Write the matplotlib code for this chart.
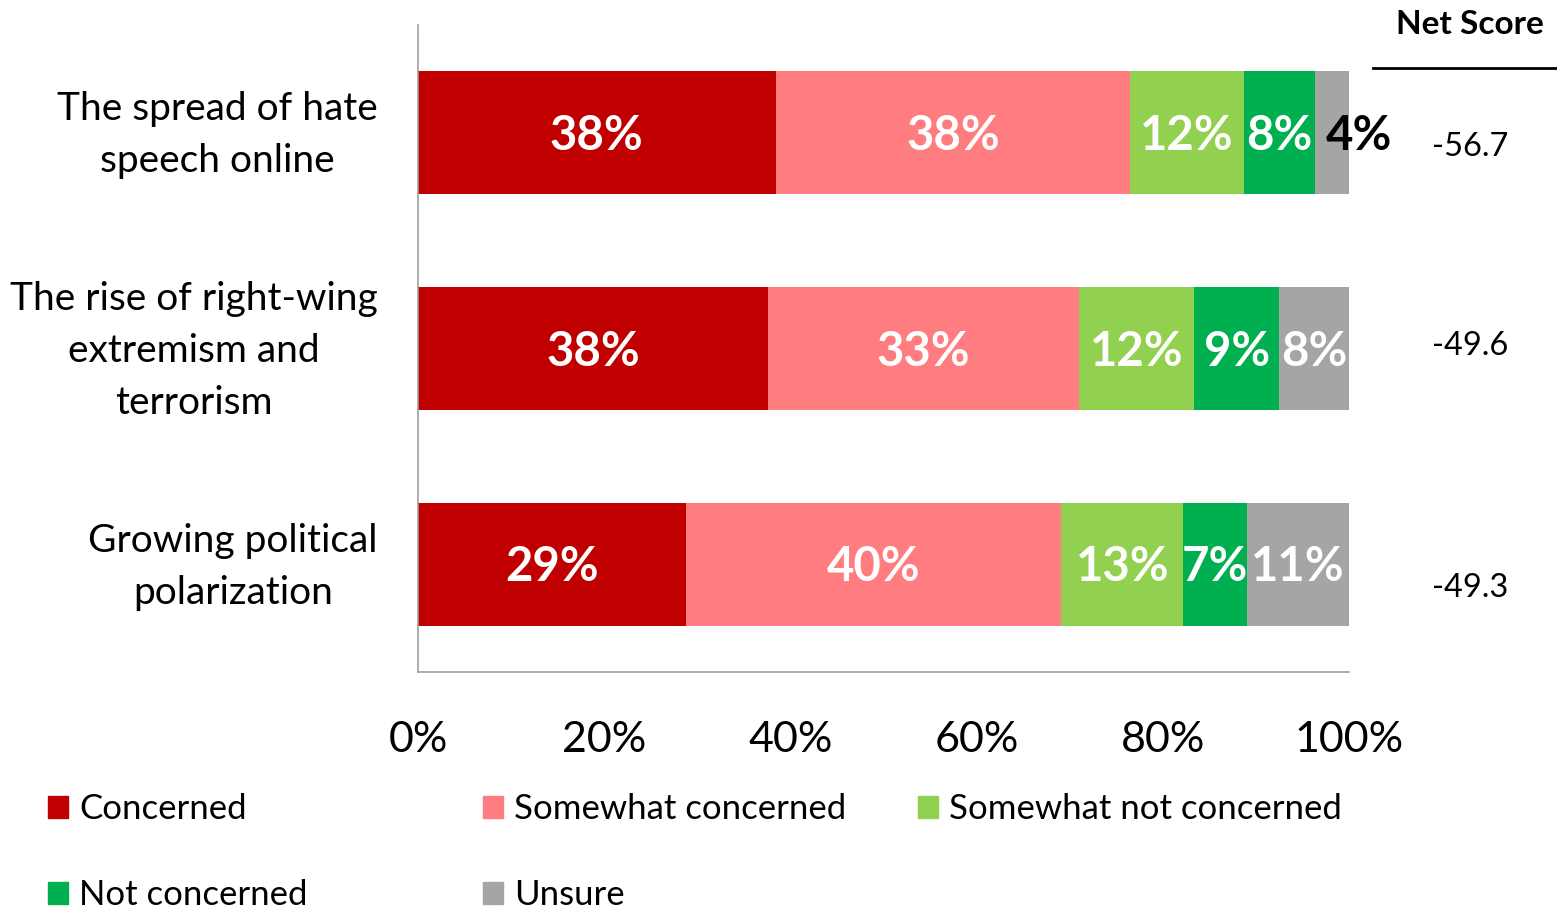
import numpy as np
import matplotlib
matplotlib.use("Agg")
import matplotlib.pyplot as plt
import matplotlib.transforms as mtransforms
from matplotlib.patches import Patch

plt.rcParams['font.family'] = ['Lato', 'DejaVu Sans']

# data
topics = ['The spread of hate\nspeech online',
          'The rise of right-wing\nextremism and\nterrorism',
          'Growing political\npolarization']
concerned = [38.4, 37.6, 28.8]
somewhat_concerned = [38.1, 33.4, 40.3]
somewhat_not = [12.2, 12.4, 13.1]
not_concerned = [7.6, 9.1, 6.8]
unsure = [3.7, 7.5, 11.0]
net_scores = ['-56.7', '-49.6', '-49.3']

series = [concerned, somewhat_concerned, somewhat_not, not_concerned, unsure]
names = ['Concerned', 'Somewhat concerned', 'Somewhat not concerned',
         'Not concerned', 'Unsure']
colors = ['#C00000', '#FF7C80', '#92D050', '#00B050', '#A5A5A5']

fig = plt.figure(figsize=(15.57, 9.10), dpi=100)
ax = fig.add_axes([418/1557, 1-672/910, (1349-418)/1557, (672-25)/910])

y = np.arange(len(topics))
left = np.zeros(len(topics))
for vals, col in zip(series, colors):
    vals = np.array(vals)
    ax.barh(y, vals, left=left, height=0.57, color=col, edgecolor='none')
    for yi, l, v in zip(y, left, vals):
        txt_col = 'white'
        xc = l + v/2
        if v < 5:
            # too thin: label sits to the right in black
            txt_col = 'black'
            xc = l + v/2 + 2.9
        ax.text(xc, yi + 0.015, '%d%%' % round(v), ha='center', va='center',
                color=txt_col, fontsize=34, fontweight='bold')
    left += vals

ax.set_xlim(0, 100)
ax.set_ylim(2.5, -0.5)
ax.set_yticks(y)
ax.set_yticklabels([])
# category labels drawn as text so they can be nudged onto the bar centres
shift = mtransforms.ScaledTranslation(0, -0.025, fig.dpi_scale_trans)
for yi, t in zip(y, topics):
    ax.text(-0.043, yi, t, transform=ax.get_yaxis_transform() + shift,
            ha='right', va='center', multialignment='center',
            fontsize=28, linespacing=1.55)
ax.set_xticks(range(0, 101, 20))
ax.set_xticklabels(['%d%%' % v for v in range(0, 101, 20)], fontsize=31)
ax.tick_params(length=0)
ax.tick_params(axis='x', pad=35)
for s in ['top', 'right']:
    ax.spines[s].set_visible(False)
for s in ['left', 'bottom']:
    ax.spines[s].set_color('#A0A0A0')
    ax.spines[s].set_linewidth(1.2)

# net score column
fig.text(1470/1557, 1-24/910, 'Net Score', ha='center', va='center',
         fontsize=24, fontweight='bold')
fig.add_artist(plt.Line2D([1373/1557, 1557/1557], [1-68/910, 1-68/910],
                          color='black', lw=2))
for ypix, ns in zip([147, 346, 588], net_scores):
    fig.text(1470/1557, 1-ypix/910, ns, ha='center', va='center', fontsize=23.5)

# legend
leg_pos = [(48, 809), (483, 809), (918, 809), (48, 895), (483, 895)]
for (xp, yp), name, col in zip(leg_pos, names, colors):
    fig.legend(handles=[Patch(color=col)], labels=[name], loc='center left',
               bbox_to_anchor=(xp/1557, 1-yp/910), frameon=False, fontsize=25,
               borderpad=0, borderaxespad=0, handlelength=0.58, handleheight=0.58,
               handletextpad=0.32)

fig.savefig('out.png', dpi=100)
